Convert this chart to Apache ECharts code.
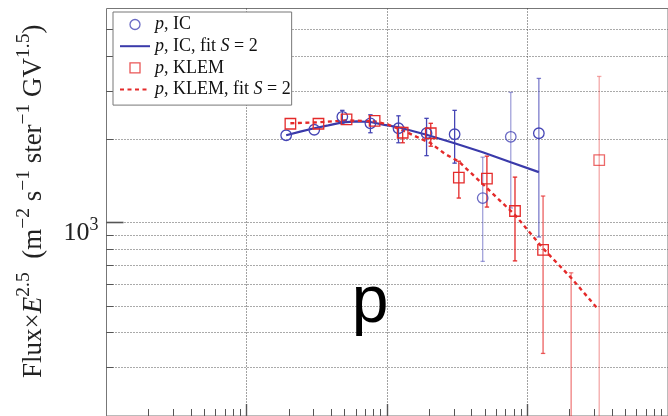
<!DOCTYPE html>
<html><head><meta charset="utf-8">
<script src="https://cdn.jsdelivr.net/npm/echarts@6/dist/echarts.min.js"></script>
<style>html,body{margin:0;padding:0;background:#fff}#c{width:668px;height:416px}</style>
</head><body><div id="c"></div>
<script>
// ---- data (rigidity-like x, Flux x E^2.5 y) ----
const icE      = [1905, 3020, 4786, 7586, 12023, 19055, 30200, 47863, 75858, 120226];
const icFlux   = [2078, 2176, 2424, 2296, 2203, 2113, 2096, 1231, 2052, 2113];
const icLow    = [null, null, 2287, 2122, 1952, 1753, 1647, 726, 1133, 890];
const icHigh   = [null, null, 2558, 2465, 2444, 2393, 2558, 1731, 2971, 3338];

const klemE    = [2042, 3236, 5129, 8128, 12882, 20417, 32359, 51286, 81283, 128825, 204174, 323594];
const klemFlux = [2287, 2287, 2374, 2344, 2122, 2113, 1460, 1448, 1105, 799, 180, 1688];
const klemLow  = [null, null, null, null, 1952, 1897, 1231, 1142, 729, 337, 100, 100];
const klemHigh = [null, null, null, null, 2221, 2296, 1674, 1746, 1466, 1252, 660, 3394];

const icFitE     = [1905, 2399, 3020, 3802, 4786, 6026, 7586, 9550, 12023, 19055, 30200, 47863, 75858, 120226];
const icFitFlux  = [2078, 2141, 2203, 2258, 2315, 2334, 2321, 2267, 2221, 2087, 1945, 1804, 1660, 1528];
const klemFitE    = [2042, 3236, 5129, 8128, 10233, 12882, 16218, 20417, 25704, 32359, 51286, 81283, 128825, 204174, 311170];
const klemFitFlux = [2296, 2315, 2354, 2334, 2268, 2166, 2050, 1945, 1780, 1669, 1338, 1069, 809, 633, 493];

// low-statistics points drawn faded
const icFaint   = [1, 1, 1, 1, 1, 1, 1, 0.5, 0.5, 0.7];
const klemFaint = [1, 1, 1, 1, 1, 1, 1, 1, 1, 0.75, 0.6, 0.4];

const yMajorTicks = [1000];
const yMinorTicks = [300, 400, 500, 600, 700, 800, 900, 2000, 3000, 4000, 5000];
const xMajorTicks = [1000, 10000, 100000];
const xMinorTicks = [200, 300, 400, 500, 600, 700, 800, 900,
  2000, 3000, 4000, 5000, 6000, 7000, 8000, 9000,
  20000, 30000, 40000, 50000, 60000, 70000, 80000, 90000,
  200000, 300000, 400000, 500000, 600000, 700000, 800000, 900000];

const legendNames = ['p, IC', 'p, IC, fit S = 2', 'p, KLEM', 'p, KLEM, fit S = 2'];

// ---- styles ----
const BLUE = '#3a3aaa', BLUE_M = '#4545b5', RED = '#e42a2a';
const SERIF = 'Liberation Serif';
const crisp = v => Math.round(v - 0.5) + 0.5;

function gridLineH(params, api) {
  const cs = params.coordSys;
  const y = crisp(api.coord([api.value(0), api.value(1)])[1]);
  return {type: 'line', silent: true, shape: {x1: cs.x, y1: y, x2: cs.x + cs.width, y2: y},
    style: {stroke: '#555', lineWidth: 1, lineDash: [1, 2]}};
}
function gridLineV(params, api) {
  const cs = params.coordSys;
  const x = crisp(api.coord([api.value(0), api.value(1)])[0]);
  return {type: 'line', silent: true, shape: {x1: x, y1: cs.y, x2: x, y2: cs.y + cs.height},
    style: {stroke: '#444', lineWidth: 1, lineDash: [1, 2]}};
}
function tickY(len, w) {
  return function (params, api) {
    const cs = params.coordSys;
    const y = crisp(api.coord([api.value(0), api.value(1)])[1]);
    return {type: 'line', silent: true, shape: {x1: cs.x, y1: y, x2: cs.x + len, y2: y},
      style: {stroke: '#555', lineWidth: w}};
  };
}
function tickX(len, w) {
  return function (params, api) {
    const cs = params.coordSys;
    const x = crisp(api.coord([api.value(0), api.value(1)])[0]);
    const b = cs.y + cs.height;
    return {type: 'line', silent: true, shape: {x1: x, y1: b, x2: x, y2: b - len},
      style: {stroke: '#555', lineWidth: w}};
  };
}
function errBars(color, faint) {
  return function (params, api) {
    const cs = params.coordSys;
    const x = api.coord([api.value(0), api.value(1)])[0];
    const yLo = api.coord([api.value(0), api.value(1)])[1];
    const yHi = api.coord([api.value(0), api.value(2)])[1];
    const top = cs.y, bot = cs.y + cs.height;
    const op = faint[api.value(3)];
    const st = {stroke: color, lineWidth: 1.3, opacity: op};
    const ch = [{type: 'line', shape: {x1: x, y1: Math.max(yHi, top), x2: x, y2: Math.min(yLo, bot)}, style: st}];
    const c = 2.2;
    if (yHi >= top) ch.push({type: 'line', shape: {x1: x - c, y1: yHi, x2: x + c, y2: yHi}, style: st});
    if (yLo <= bot) ch.push({type: 'line', shape: {x1: x - c, y1: yLo, x2: x + c, y2: yLo}, style: st});
    return {type: 'group', silent: true, children: ch};
  };
}
function errData(xs, lo, hi) {
  const out = [];
  xs.forEach((x, i) => { if (lo[i] != null && hi[i] != null) out.push([x, lo[i], hi[i], i]); });
  return out;
}

const chart = echarts.init(document.getElementById('c'), null, {renderer: 'canvas'});
const onY = arr => arr.map(v => [1000, v]);
const onX = arr => arr.map(v => [v, 1000]);

chart.setOption({
  animation: false,
  backgroundColor: '#fff',
  grid: {left: 106.5, top: 8.5, width: 568, height: 409, show: true, borderColor: '#777', borderWidth: 1,
    backgroundColor: 'transparent', containLabel: false},
  xAxis: {type: 'log', logBase: 10, min: 100, max: 1000000,
    axisLine: {show: false}, axisTick: {show: false}, axisLabel: {show: false}, splitLine: {show: false}},
  yAxis: {type: 'log', logBase: 10, min: 200, max: 5980,
    axisLine: {show: false}, axisTick: {show: false}, splitLine: {show: false},
    axisLabel: {
      margin: 8, padding: [16, 0, 0, 0],
      formatter: function (v) {
        const e = Math.log10(v);
        if (Math.abs(e - Math.round(e)) > 1e-6) return '';
        return '{b|10}{s|' + Math.round(e) + '}';
      },
      rich: {
        b: {fontFamily: SERIF, fontSize: 26, lineHeight: 30, color: '#222', verticalAlign: 'bottom'},
        s: {fontFamily: SERIF, fontSize: 18, lineHeight: 8, color: '#222', verticalAlign: 'top'}
      }
    },
    name: '{n|Flux×}{e|E}{s|2.5}{n|  (m}{s|−2}{n| s}{s|−1}{n| ster}{s|−1}{n| GV}{s|1.5}{n|)}',
    nameLocation: 'middle', nameRotate: 90, nameGap: 59,
    nameTextStyle: {
      padding: [0, 0, 0, 22],
      rich: {
        n: {fontFamily: SERIF, fontSize: 27, lineHeight: 34, color: '#222', verticalAlign: 'bottom'},
        e: {fontFamily: SERIF, fontSize: 27, fontStyle: 'italic', lineHeight: 34, color: '#222', verticalAlign: 'bottom'},
        s: {fontFamily: SERIF, fontSize: 19.5, lineHeight: 8, color: '#222', verticalAlign: 'top'}
      }
    }
  },
  legend: {
    orient: 'vertical', left: 113, top: 12,
    padding: [3, 1, 6, 6], itemGap: 2.7, itemWidth: 30, itemHeight: 10,
    backgroundColor: '#fff', borderColor: '#777', borderWidth: 1, borderRadius: 0,
    selectedMode: false,
    data: [
      {name: legendNames[0], icon: 'circle', itemStyle: {color: 'rgba(0,0,0,0)', borderColor: BLUE_M, borderWidth: 1.3}},
      {name: legendNames[1], itemStyle: {opacity: 0, borderWidth: 0}},
      {name: legendNames[2], icon: 'path://M0 0H10V10H0Z', itemStyle: {color: 'rgba(0,0,0,0)', borderColor: RED, borderWidth: 1.3}},
      {name: legendNames[3], itemStyle: {opacity: 0, borderWidth: 0}}
    ],
    formatter: n => n.replace(/^p/, '{i|p}').replace('S =', '{i|S} ='),
    textStyle: {fontFamily: SERIF, fontSize: 18, color: '#111', lineHeight: 19,
      rich: {i: {fontFamily: SERIF, fontSize: 18, fontStyle: 'italic', color: '#111', lineHeight: 19}}}
  },
  graphic: [{type: 'text', x: 370, y: 304, z: 10, silent: true,
    style: {text: 'p', fontFamily: 'Liberation Sans', fontSize: 66, fill: '#000', align: 'center', verticalAlign: 'middle'}}],
  series: [
    {type: 'custom', name: 'gy', z: 1, data: onY(yMajorTicks.concat(yMinorTicks)), renderItem: gridLineH},
    {type: 'custom', name: 'gx', z: 1, data: onX(xMajorTicks), renderItem: gridLineV},
    {type: 'custom', name: 'tyM', z: 1, data: onY(yMajorTicks), renderItem: tickY(17, 1.6)},
    {type: 'custom', name: 'tym', z: 1, data: onY(yMinorTicks), renderItem: tickY(7, 1)},
    {type: 'custom', name: 'txM', z: 1, data: onX(xMajorTicks), renderItem: tickX(12, 1.4)},
    {type: 'custom', name: 'txm', z: 1, data: onX(xMinorTicks), renderItem: tickX(7, 1)},
    {type: 'custom', name: 'eIC', z: 2, data: errData(icE, icLow, icHigh), renderItem: errBars(BLUE_M, icFaint)},
    {type: 'custom', name: 'eKL', z: 2, data: errData(klemE, klemLow, klemHigh), renderItem: errBars(RED, klemFaint)},
    {type: 'line', name: legendNames[1], z: 3, symbol: 'none', showSymbol: false, clip: true,
      data: icFitE.map((e, i) => [e, icFitFlux[i]]), lineStyle: {color: BLUE, width: 2.2}, itemStyle: {color: BLUE}},
    {type: 'line', name: legendNames[3], z: 3, symbol: 'none', showSymbol: false, clip: true,
      data: klemFitE.map((e, i) => [e, klemFitFlux[i]]), lineStyle: {color: RED, width: 2.4, type: [4, 3.5]}, itemStyle: {color: RED}},
    {type: 'scatter', name: legendNames[0], z: 4, symbol: 'circle', symbolSize: 10.5, clip: true,
      data: icE.map((e, i) => ({value: [e, icFlux[i]], itemStyle: {opacity: icFaint[i] < 1 ? Math.min(1, icFaint[i] + 0.3) : 1}})),
      itemStyle: {color: 'rgba(0,0,0,0)', borderColor: BLUE_M, borderWidth: 1.3}},
    {type: 'scatter', name: legendNames[2], z: 4, symbol: 'rect', symbolSize: 10.5, clip: true,
      data: klemE.map((e, i) => ({value: [e, klemFlux[i]], itemStyle: {opacity: klemFaint[i] < 1 ? Math.min(1, klemFaint[i] + 0.3) : 1}})),
      itemStyle: {color: 'rgba(0,0,0,0)', borderColor: RED, borderWidth: 1.3}}
  ]
});
</script></body></html>
